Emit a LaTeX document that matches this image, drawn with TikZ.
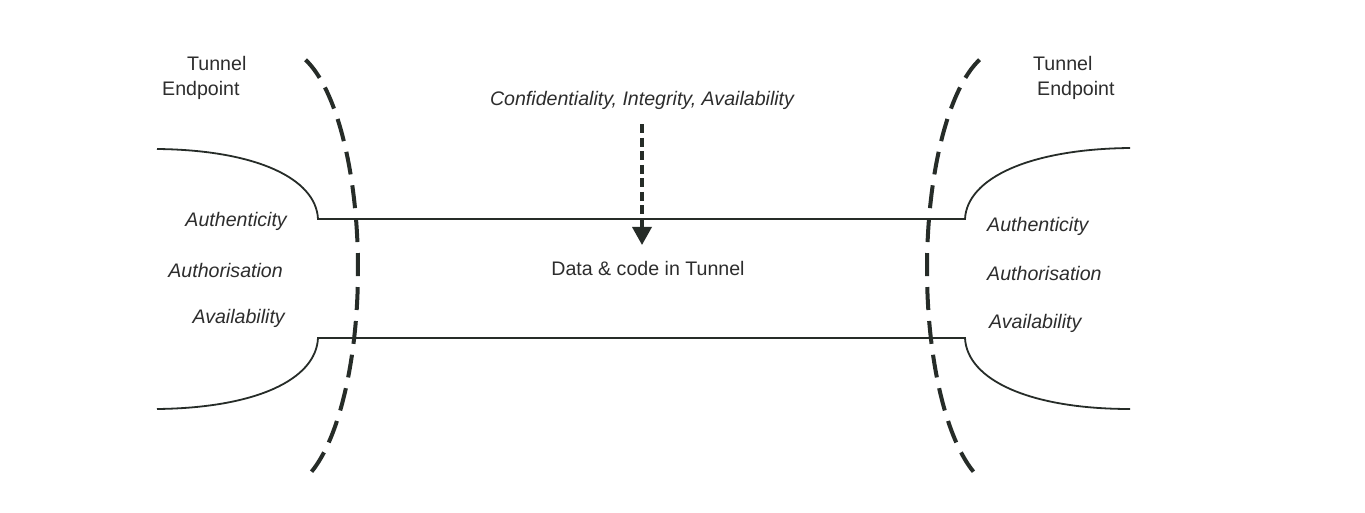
\documentclass[tikz,border=0pt]{standalone}
\usepackage{fontspec}
\setmainfont{Liberation Sans}
\usetikzlibrary{arrows.meta}
\definecolor{ink}{RGB}{38,44,40}
\definecolor{txt}{RGB}{45,45,45}
\begin{document}
\begin{tikzpicture}[x=1pt,y=-1pt,
  lbl/.style={inner sep=0pt,text=txt,font=\fontsize{19.6}{23}\selectfont},
  ital/.style={lbl,font=\fontsize{19.6}{23}\selectfont\itshape},
  wall/.style={draw=ink,line width=1.8pt},
  border/.style={draw=ink,line width=4pt,dash pattern=on 23pt off 11pt},
  flow/.style={draw=ink,line width=3.5pt,dash pattern=on 9pt off 4.5pt,
    -{Triangle[length=18pt,width=19pt]}}]
\useasboundingbox[fill=white] (0,0) rectangle (1365,513);

% tunnel walls with the flared endpoints
\draw[wall] (157,149) .. controls (255,150) and (316,178) .. (318,219)
  -- (965,219) .. controls (967,178) and (1030,149) .. (1130,148);
\draw[wall] (157,409) .. controls (255,408) and (316,380) .. (318,338)
  -- (965,338) .. controls (967,380) and (1030,409) .. (1130,409);

% dashed endpoint boundaries
\draw[border] plot[domain=-72:72,samples=60,smooth]
  ({282+76*cos(\x)},{269+220*sin(\x)});
\draw[border] plot[domain=-72:72,samples=60,smooth]
  ({1003-76*cos(\x)},{269+220*sin(\x)});

% endpoint titles
\node[lbl,anchor=west] (tl1) at (187,63) {Tunnel};
\node[lbl,anchor=west] (tl2) at (162,90) {Endpoint};
\node[lbl,anchor=west] (tr1) at (1033,63) {Tunnel};
\node[lbl,anchor=west] (tr2) at (1037,90) {Endpoint};

% endpoint properties
\node[ital,anchor=east] (la) at (287,221) {Authenticity};
\node[ital,anchor=east] (lb) at (283,270) {Authorisation};
\node[ital,anchor=east] (lc) at (285,318) {Availability};
\node[ital,anchor=west] (ra) at (987,226) {Authenticity};
\node[ital,anchor=west] (rb) at (987,273) {Authorisation};
\node[ital,anchor=west] (rc) at (989,323) {Availability};

% tunnel contents
\node[ital] (cia) at (642,100) {Confidentiality, Integrity, Availability};
\node[lbl] (data) at (648,268) {Data \& code in Tunnel};
\coordinate (tip) at (642,245);
\draw[flow] (cia.south -| tip) ++(0,15) coordinate (start) -- (tip);
\end{tikzpicture}
\end{document}
